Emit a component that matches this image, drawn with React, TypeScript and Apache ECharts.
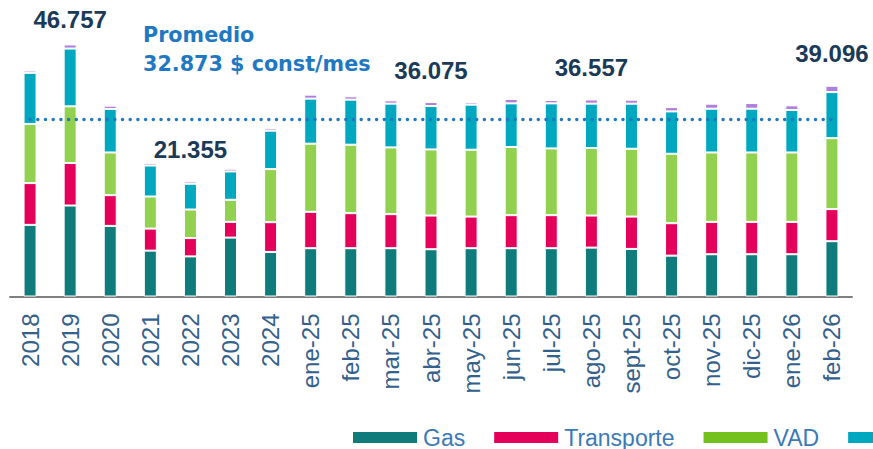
import React, { useEffect, useRef } from "react";
import * as echarts from "echarts";

const categories = [
  "2018", "2019", "2020", "2021", "2022", "2023", "2024",
  "ene-25", "feb-25", "mar-25", "abr-25", "may-25", "jun-25", "jul-25",
  "ago-25", "sept-25", "oct-25", "nov-25", "dic-25", "ene-26", "feb-26",
];

const gas = [13290, 16880, 13100, 8510, 7440, 10930, 8270, 8960, 8960, 8960, 8770, 8960, 8960, 8960, 9070, 8830, 7580, 7840, 7840, 7840, 10260];
const transporte = [7750, 7880, 5700, 4090, 3400, 2920, 5520, 6750, 6500, 6320, 6250, 5870, 6130, 6130, 5950, 6000, 6020, 6000, 6000, 6000, 5950];
const vad = [10970, 10520, 7920, 5950, 5300, 4090, 9850, 12640, 12700, 12380, 12265, 12400, 12640, 12380, 12530, 12580, 12880, 12880, 12880, 12880, 13166];
const impuestos = [9480, 10720, 8070, 5760, 4780, 5260, 7120, 8360, 8360, 8120, 8050, 8360, 8100, 8360, 8230, 8360, 7860, 8120, 8120, 7880, 8550];
const otros = [430, 757, 610, 450, 435, 500, 430, 740, 620, 610, 740, 430, 820, 630, 777, 740, 800, 930, 1050, 860, 1170];

const promedio = 32873;
const labeledCategories = ["2019", "2022", "abr-25", "ago-25", "feb-26"];

const seriesNames = ["Gas", "Transporte", "VAD", "Impuestos", "Otros"];
const seriesColors = ["#0f7b7b", "#e4005a", "#92d050", "#00a8bf", "#b07fdc"];
// legend entries whose label lies beyond the picture's right edge in the reference
const legendHiddenLabels = ["Impuestos"];

function fmt(v: number): string {
  return Math.round(v).toString().replace(/\B(?=(\d{3})+(?!\d))/g, ".");
}

export default function App() {
  const ref = useRef<HTMLDivElement>(null);
  useEffect(() => {
    document.body.style.margin = "0";
    if (!ref.current) return;
    const chart = echarts.init(ref.current, undefined, { renderer: "svg" });
    const values = [gas, transporte, vad, impuestos, otros];
    const totals = categories.map((_, i) => values.reduce((s, arr) => s + arr[i], 0));

    const series: any[] = values.map((arr, si) => {
      const isTop = si === values.length - 1;
      return {
        name: seriesNames[si],
        type: "bar",
        stack: "total",
        barWidth: 13,
        itemStyle: { color: seriesColors[si], borderColor: "#ffffff", borderWidth: 1 },
        data: arr.map((v, i) => {
          if (isTop && labeledCategories.includes(categories[i])) {
            return {
              value: v,
              label: {
                show: true,
                position: "top",
                distance: categories[i] === "2019" ? 13 : 20,
                formatter: () => fmt(totals[i]),
                fontFamily: "Liberation Sans",
                fontWeight: "bold",
                fontSize: 24,
                color: "#1b3a57",
              },
            };
          }
          return v;
        }),
      };
    });

    series[0].markLine = {
      silent: true,
      symbol: "none",
      label: { show: false },
      lineStyle: { color: "#1f78c1", width: 3.4, type: [0.1, 7.6], cap: "round" },
      data: [[
        { coord: [categories[0], promedio] },
        { coord: [categories[categories.length - 1], promedio] },
      ]],
    };

    chart.setOption({
      animation: false,
      grid: { left: 10, right: 21, top: 27, bottom: 152.5 },
      xAxis: {
        type: "category",
        data: categories,
        axisLine: { lineStyle: { color: "#7f7f7f", width: 2 } },
        axisTick: { inside: true, length: 6, lineStyle: { color: "#7f7f7f", width: 2 } },
        axisLabel: {
          rotate: 90,
          margin: 17,
          fontSize: 24,
          fontFamily: "Liberation Sans",
          color: "#34608c",
          interval: 0,
        },
      },
      yAxis: { type: "value", min: 0, max: 50000, show: false, splitLine: { show: false } },
      legend: {
        left: 351,
        top: 426,
        width: 900,
        padding: 0,
        itemWidth: 66,
        itemHeight: 13,
        itemGap: 27,
        icon: "rect",
        data: [
          { name: "Gas" },
          { name: "Transporte" },
          { name: "VAD", itemStyle: { color: "#74c01c" } },
          { name: "Impuestos" },
        ],
        formatter: (name: string) => (legendHiddenLabels.includes(name) ? "" : name),
        textStyle: { fontSize: 23, fontFamily: "Liberation Sans", color: "#3b7ab6" },
      },
      graphic: [
        {
          type: "text",
          left: 143,
          top: 24,
          style: {
            text: "Promedio",
            font: "bold 20.7px 'DejaVu Sans'",
            fill: "#1f78c1",
          },
        },
        {
          type: "text",
          left: 143,
          top: 53.5,
          style: {
            text: "32.873 $ const/mes",
            font: "bold 20.7px 'DejaVu Sans'",
            fill: "#1f78c1",
          },
        },
      ],
      series,
    });
    return () => chart.dispose();
  }, []);
  return <div ref={ref} style={{ width: 873, height: 449 }} />;
}
